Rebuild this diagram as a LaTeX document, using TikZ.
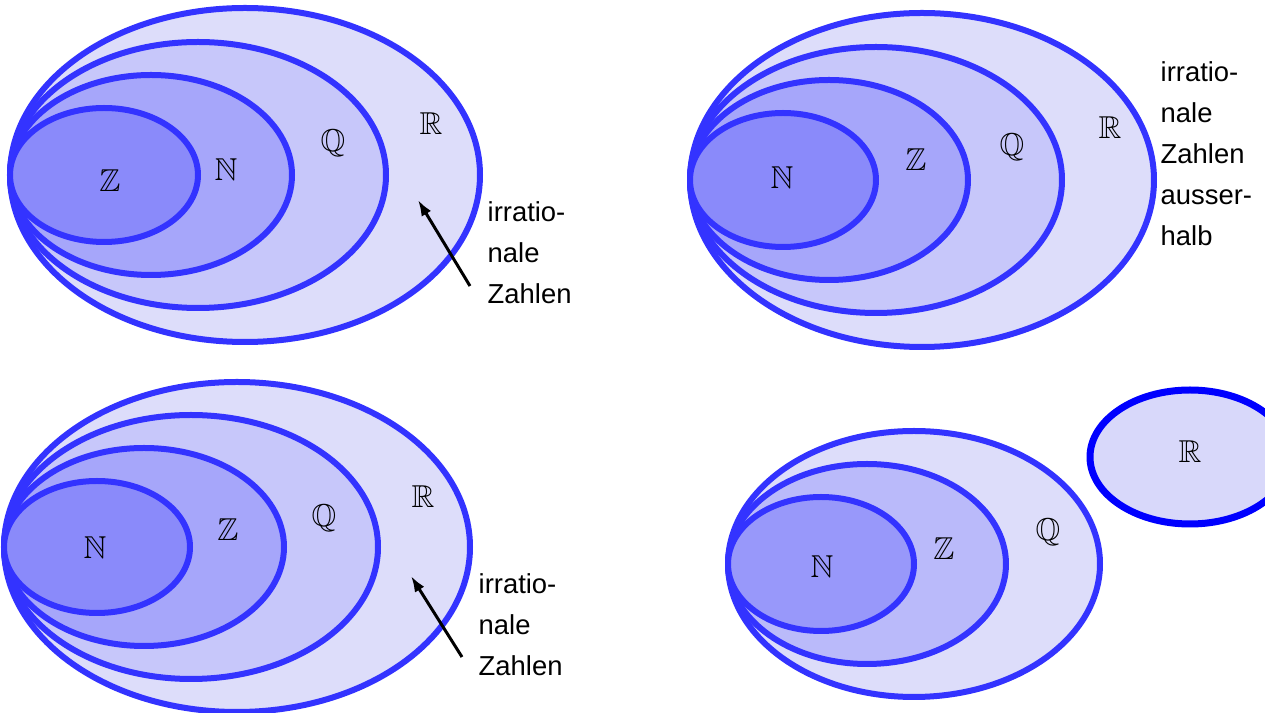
\documentclass[tikz,border=0pt]{standalone}
\usepackage{amssymb}
\usepackage{fontspec}
\setmainfont{Liberation Sans}
\usetikzlibrary{arrows.meta}

\definecolor{setblue}{RGB}{51,51,255}
\definecolor{fillR}{RGB}{221,221,250}
\definecolor{fillQ}{RGB}{199,199,250}
\definecolor{fillM}{RGB}{166,166,250}
\definecolor{fillI}{RGB}{138,138,250}
\definecolor{fillZb}{RGB}{186,186,250}
\definecolor{fillNb}{RGB}{152,152,250}
\definecolor{fillRb}{RGB}{216,216,250}

\begin{document}
\begin{tikzpicture}[x=0.1mm, y=-0.1mm, >={Latex[length=1.6mm,width=1.1mm]},
  set/.style={line width=0.6mm, draw=setblue},
  lbl/.style={inner sep=0pt, font=\fontsize{9}{10}\selectfont},
  note/.style={align=left, anchor=north west, inner sep=0pt, font=\fontsize{7.8}{11.65}\selectfont},
  pointer/.style={->, line width=0.3mm, black}]
\useasboundingbox (0,0) rectangle (1265,713);
\clip (0,0) rectangle (1265,713);

% oben links
\draw[set, fill=fillR] (245,175) ellipse [x radius=235, y radius=167];
\draw[set, fill=fillQ] (198,175) ellipse [x radius=188, y radius=133];
\draw[set, fill=fillM] (151,175) ellipse [x radius=141, y radius=100];
\draw[set, fill=fillI] (104,175) ellipse [x radius=94, y radius=67];
\node[lbl] (z1) at (110,181) {$\mathbb{Z}$};\node[lbl] (n1) at (226,170) {$\mathbb{N}$};
\node[lbl] (q1) at (333,143) {$\mathbb{Q}$};\node[lbl] (r1) at (431,124) {$\mathbb{R}$};
\node[note] (irr1) at (487,201) {irratio-\\nale\\Zahlen};
\coordinate (tip1) at (418,200);\coordinate (tail1) at (470,286);
\draw[pointer] (tail1) -- (tip1);

% oben rechts
\draw[set, fill=fillR] (922,180) ellipse [x radius=232, y radius=167];
\draw[set, fill=fillQ] (876,180) ellipse [x radius=186, y radius=133];
\draw[set, fill=fillM] (829,180) ellipse [x radius=139, y radius=100];
\draw[set, fill=fillI] (783,180) ellipse [x radius=93, y radius=67];
\node[lbl] (n2) at (782,178) {$\mathbb{N}$};\node[lbl] (z2) at (916,160) {$\mathbb{Z}$};
\node[lbl] (q2) at (1012,147) {$\mathbb{Q}$};\node[lbl] (r2) at (1110,128) {$\mathbb{R}$};
\node[note] (irr2) at (1160,61) {irratio-\\nale\\Zahlen\\ausser-\\halb};

% unten links
\draw[set, fill=fillR] (237,547) ellipse [x radius=233, y radius=165];
\draw[set, fill=fillQ] (191,547) ellipse [x radius=187, y radius=132];
\draw[set, fill=fillM] (144,547) ellipse [x radius=140, y radius=99];
\draw[set, fill=fillI] (97,547) ellipse [x radius=93, y radius=66];
\node[lbl] (n3) at (95,548) {$\mathbb{N}$};\node[lbl] (z3) at (228,530) {$\mathbb{Z}$};
\node[lbl] (q3) at (324,518) {$\mathbb{Q}$};\node[lbl] (r3) at (423,497) {$\mathbb{R}$};
\node[note] (irr3) at (478,573) {irratio-\\nale\\Zahlen};
\coordinate (tip3) at (411,576);\coordinate (tail3) at (462,657);
\draw[pointer] (tail3) -- (tip3);

% unten rechts
\draw[set, fill=fillR] (914,564) ellipse [x radius=186, y radius=133];
\draw[set, fill=fillZb] (867,564) ellipse [x radius=139, y radius=100];
\draw[set, fill=fillNb] (821,564) ellipse [x radius=93, y radius=67];
\draw[line width=0.7mm, draw=blue, fill=fillRb] (1190,457) ellipse [x radius=100, y radius=67];
\node[lbl] (n4) at (822,567) {$\mathbb{N}$};\node[lbl] (z4) at (944,549) {$\mathbb{Z}$};
\node[lbl] (q4) at (1048,532) {$\mathbb{Q}$};\node[lbl] (r4) at (1190,452) {$\mathbb{R}$};
\end{tikzpicture}
\end{document}
